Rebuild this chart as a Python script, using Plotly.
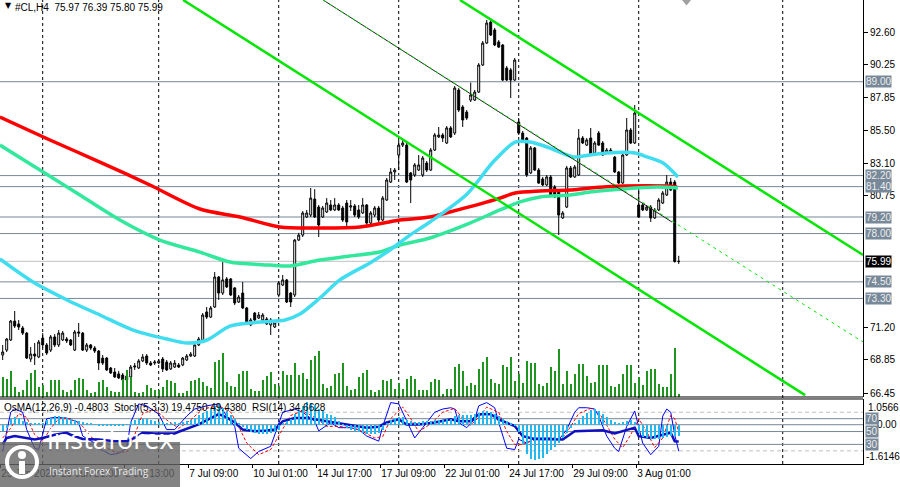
import plotly.graph_objects as go

# #CL H4 candles, one value per bar (oldest first)
opens = [69.20, 69.56, 70.29, 71.66, 71.45, 71.16, 70.79, 68.91, 69.27, 69.06,
         70.43, 69.93, 69.56, 70.51, 69.93, 70.29, 70.36, 70.29, 69.56, 70.87,
         70.79, 69.56, 69.93, 69.71, 69.49, 68.98, 68.98, 68.26, 67.97, 67.83,
         67.75, 67.39, 67.61, 68.33, 68.26, 68.77, 69.13, 68.62, 68.62, 68.62,
         68.91, 68.69, 68.19, 68.33, 68.48, 68.48, 68.84, 69.13, 69.13, 69.93,
         70.29, 72.32, 71.95, 72.68, 74.85, 73.69, 74.71, 74.71, 74.06, 73.04,
         73.69, 72.61, 71.38, 72.24, 71.88, 71.74, 71.81, 71.38, 71.23, 73.55,
         74.27, 74.64, 73.69, 73.55, 77.53, 77.89, 79.20, 79.34, 80.50, 79.92,
         79.20, 79.56, 80.07, 79.71, 80.07, 79.85, 80.21, 79.92, 80.00, 79.71,
         79.49, 80.07, 78.76, 79.34, 79.85, 78.98, 80.43, 81.73, 82.46, 83.69,
         84.41, 84.41, 82.39, 82.24, 82.60, 82.24, 83.11, 82.60, 84.05, 85.00,
         85.14, 84.56, 85.65, 85.28, 88.40, 87.17, 86.80, 87.67, 87.67, 88.25,
         90.21, 91.80, 93.32, 92.75, 91.88, 91.66, 89.99, 89.85, 89.12, 86.08,
         85.28, 84.92, 82.39, 84.20, 82.60, 81.95, 81.52, 82.10, 81.37, 81.15,
         79.13, 79.92, 82.75, 82.10, 82.24, 84.92, 84.41, 84.92, 83.83, 85.28,
         84.56, 83.83, 84.05, 83.54, 82.46, 81.66, 83.69, 85.50, 84.56, 80.07,
         80.07, 79.71, 79.92, 79.13, 79.71, 80.21, 80.79, 81.73, 81.73, 75.97]
highs = [69.93, 70.43, 71.74, 72.39, 71.74, 71.30, 70.87, 69.78, 70.07, 70.29,
         70.79, 70.07, 70.65, 70.72, 71.01, 70.94, 70.51, 70.36, 71.01, 71.52,
         70.87, 70.07, 70.00, 69.85, 69.56, 69.20, 69.06, 68.33, 68.26, 68.05,
         67.90, 67.83, 68.48, 68.62, 68.91, 69.27, 69.27, 68.77, 68.84, 68.91,
         69.06, 68.84, 68.77, 68.84, 68.62, 69.06, 69.27, 69.42, 70.07, 70.51,
         72.24, 72.68, 72.75, 75.21, 74.93, 75.94, 74.85, 74.78, 74.13, 73.55,
         74.49, 72.68, 71.88, 72.32, 72.32, 72.24, 71.95, 71.88, 71.66, 74.56,
         75.00, 74.71, 73.76, 77.60, 78.05, 79.63, 79.71, 81.30, 81.22, 80.07,
         80.00, 80.57, 80.43, 80.57, 80.21, 80.00, 80.43, 80.43, 80.14, 80.07,
         80.57, 80.14, 79.63, 80.00, 80.00, 80.72, 82.03, 82.75, 82.75, 84.78,
         84.85, 84.56, 82.46, 83.11, 83.69, 83.62, 83.26, 84.20, 85.28, 85.72,
         85.28, 85.79, 85.79, 88.69, 88.54, 87.31, 86.95, 88.94, 88.40, 90.35,
         91.95, 93.47, 93.61, 92.90, 92.02, 91.73, 90.14, 89.99, 90.72, 86.37,
         85.43, 85.00, 84.34, 84.27, 82.75, 82.10, 82.24, 82.24, 81.52, 81.22,
         79.63, 82.90, 82.90, 82.97, 85.57, 85.07, 84.92, 85.65, 84.70, 85.43,
         84.70, 84.20, 84.20, 83.62, 82.53, 83.83, 86.37, 85.65, 87.31, 81.52,
         80.21, 80.07, 80.07, 79.85, 80.57, 81.08, 82.24, 82.03, 81.88, 76.39]
lows = [68.84, 69.42, 70.22, 71.16, 71.01, 70.65, 68.91, 68.69, 68.48, 68.98,
        69.71, 69.20, 69.42, 69.78, 69.78, 70.22, 70.07, 69.85, 69.49, 70.51,
        69.49, 69.42, 69.56, 69.35, 68.12, 68.48, 68.05, 67.83, 67.54, 67.46,
        67.25, 67.25, 67.54, 68.12, 68.19, 68.69, 68.48, 68.40, 68.48, 68.55,
        67.97, 68.05, 68.12, 68.26, 68.26, 68.40, 68.77, 69.06, 69.06, 69.85,
        70.22, 71.81, 71.88, 72.61, 73.19, 73.55, 74.06, 73.47, 72.82, 72.97,
        72.53, 71.38, 71.30, 71.66, 71.81, 71.66, 71.38, 70.65, 71.16, 73.40,
        74.20, 72.97, 72.68, 73.40, 77.46, 77.75, 79.13, 79.20, 79.13, 77.75,
        79.13, 79.49, 79.63, 79.63, 79.63, 78.84, 78.55, 79.63, 79.20, 79.06,
        79.42, 78.62, 78.69, 79.20, 78.84, 78.91, 80.36, 81.66, 81.88, 82.60,
        84.27, 81.66, 80.21, 82.10, 82.53, 82.10, 82.46, 82.53, 83.98, 84.92,
        84.63, 84.49, 84.92, 85.14, 86.80, 85.72, 86.23, 87.53, 87.60, 88.18,
        90.14, 91.73, 92.31, 91.58, 91.44, 89.05, 89.05, 87.82, 89.05, 85.14,
        84.70, 82.10, 82.31, 82.53, 81.59, 81.44, 81.44, 80.72, 80.57, 77.89,
        79.06, 79.85, 82.03, 82.03, 82.17, 84.49, 84.34, 83.62, 83.76, 84.34,
        83.62, 83.76, 83.76, 82.39, 81.59, 81.59, 83.62, 84.49, 84.49, 79.13,
        79.63, 79.63, 78.84, 79.06, 79.63, 80.14, 80.72, 81.08, 75.90, 75.80]
closes = [69.42, 70.36, 71.66, 71.30, 71.23, 70.79, 68.98, 69.27, 69.13, 70.14,
          69.93, 69.35, 70.51, 69.93, 70.79, 70.79, 70.22, 69.93, 70.87, 70.79,
          69.56, 69.93, 69.71, 69.49, 68.62, 68.62, 68.12, 67.90, 67.61, 67.54,
          67.39, 67.68, 68.33, 68.40, 68.77, 69.06, 68.62, 68.48, 68.69, 68.77,
          68.19, 68.12, 68.62, 68.62, 68.33, 68.98, 69.13, 69.27, 69.93, 70.36,
          72.10, 71.95, 72.61, 74.85, 73.69, 74.64, 74.13, 73.55, 72.97, 73.40,
          72.61, 71.52, 71.74, 71.74, 72.10, 72.10, 71.45, 71.74, 71.52, 74.42,
          74.64, 73.04, 73.04, 77.53, 77.89, 79.49, 79.49, 80.57, 79.20, 78.62,
          79.85, 80.21, 79.71, 80.07, 79.71, 78.98, 78.84, 80.00, 79.34, 79.20,
          80.07, 78.76, 79.49, 79.85, 78.98, 80.57, 81.88, 82.46, 82.60, 84.41,
          84.56, 81.73, 81.88, 82.97, 82.97, 83.47, 82.60, 84.05, 85.14, 85.14,
          84.92, 85.65, 85.00, 88.54, 86.95, 86.23, 86.37, 88.04, 88.25, 90.21,
          91.80, 93.25, 92.38, 91.66, 91.51, 89.12, 89.12, 89.12, 90.57, 85.28,
          84.78, 82.24, 84.20, 82.60, 81.66, 81.52, 82.10, 80.79, 80.65, 79.34,
          79.49, 82.75, 82.10, 82.82, 84.92, 84.56, 84.78, 83.69, 84.56, 84.41,
          83.69, 84.05, 83.83, 82.46, 81.66, 83.69, 85.50, 84.56, 86.73, 79.20,
          79.71, 79.92, 79.13, 79.71, 80.43, 80.94, 81.73, 81.15, 75.97, 75.99]
volumes = [20, 18, 26, 10, 5, 7, 17, 24, 27, 10, 12, 5, 17, 17, 17, 7, 5, 7, 17, 19,
           18, 7, 4, 5, 15, 17, 10, 6, 5, 5, 18, 27, 20, 5, 4, 5, 12, 9, 7, 7,
           10, 17, 16, 14, 4, 4, 6, 16, 17, 19, 15, 11, 9, 35, 37, 44, 15, 11, 10, 23,
           26, 26, 8, 6, 6, 17, 21, 25, 13, 11, 26, 22, 22, 34, 22, 24, 18, 37, 41, 46,
           13, 9, 11, 23, 24, 34, 11, 7, 8, 20, 24, 27, 7, 5, 7, 17, 16, 18, 8, 14,
           8, 18, 21, 18, 7, 7, 7, 15, 18, 17, 3, 8, 8, 30, 33, 26, 11, 14, 12, 28,
           35, 40, 18, 14, 13, 32, 30, 40, 16, 23, 14, 36, 34, 34, 13, 11, 14, 30, 26, 48,
           13, 26, 13, 23, 33, 33, 21, 14, 15, 32, 32, 32, 11, 10, 13, 23, 32, 32, 14, 20,
           12, 26, 28, 28, 13, 10, 10, 23, 49, 3]
osma = [-0.25, -0.15, 0.25, 0.32, 0.28, 0.15, 0.10, 0.08, 0.06, 0.05,
        0.08, 0.18, 0.28, 0.36, 0.34, 0.30, 0.26, 0.22, 0.20, 0.16,
        0.12, 0.08, 0.05, 0.02, -0.02, -0.04, -0.05, -0.06, -0.05, -0.04,
        -0.02, 0.02, 0.10, 0.18, 0.22, 0.24, 0.22, 0.20, 0.16, 0.12,
        0.10, 0.08, 0.08, 0.10, 0.09, 0.10, 0.14, 0.20, 0.28, 0.38,
        0.50, 0.58, 0.66, 0.75, 0.80, 0.70, 0.55, 0.40, 0.22, 0.05,
        -0.10, -0.20, -0.30, -0.36, -0.40, -0.40, -0.38, -0.35, -0.30, -0.20,
        0.05, 0.15, 0.22, 0.45, 0.62, 0.78, 0.93, 0.88, 0.80, 0.65,
        0.55, 0.45, 0.38, 0.30, 0.15, 0.02, -0.12, -0.20, -0.25, -0.30,
        -0.35, -0.38, -0.40, -0.38, -0.32, -0.20, 0.05, 0.20, 0.28, 0.32,
        0.30, 0.20, 0.15, 0.12, 0.12, 0.14, 0.15, 0.15, 0.18, 0.20,
        0.20, 0.22, 0.25, 0.35, 0.38, 0.40, 0.38, 0.40, 0.45, 0.50,
        0.55, 0.57, 0.52, 0.45, 0.35, 0.25, 0.15, 0.05, -0.05, -0.30,
        -0.80, -1.20, -1.40, -1.45, -1.42, -1.35, -1.20, -1.05, -0.90, -0.75,
        -0.55, -0.35, -0.15, 0.05, 0.20, 0.35, 0.50, 0.62, 0.64, 0.55,
        0.42, 0.30, 0.20, 0.10, 0.05, 0.10, 0.15, 0.20, 0.10, -0.35,
        -0.50, -0.55, -0.60, -0.60, -0.58, -0.55, -0.50, -0.45, -0.48, -0.48]

stoch_x = [0, 2, 3, 5, 6, 8, 9, 11, 13, 16, 19, 20, 23, 24, 27, 29, 31, 32, 34, 36,
           39, 41, 43, 46, 48, 51, 54, 56, 58, 59, 62, 64, 67, 69, 70, 73, 75, 78, 79, 82,
           84, 87, 89, 91, 94, 95, 97, 99, 100, 103, 105, 108, 110, 112, 113, 114, 116, 118, 119, 121,
           123, 124, 126, 128, 129, 131, 133, 137, 139, 141, 143, 144, 146, 148, 149, 151, 153, 154, 156, 158,
           160, 162, 164, 165, 166, 167, 168, 169]
stoch_main = [19, 80, 85, 80, 53, 24, 22, 70, 72, 71, 64, 43, 32, 24, 14, 16, 24, 64, 93, 90,
              77, 53, 53, 74, 85, 90, 93, 74, 58, 24, 8, 19, 27, 64, 80, 85, 80, 66, 51, 64,
              56, 56, 53, 43, 35, 58, 95, 93, 80, 40, 56, 80, 85, 87, 85, 64, 56, 69, 90, 95,
              87, 64, 24, 22, 38, 32, 40, 40, 37, 53, 80, 87, 87, 85, 74, 43, 24, 19, 58, 82,
              32, 14, 27, 74, 85, 80, 45, 19.47]
signal_x = [0, 2, 4, 6, 8, 10, 12, 14, 17, 20, 22, 25, 28, 31, 33, 35, 38, 41, 44, 47,
            50, 54, 57, 59, 61, 64, 67, 70, 72, 75, 78, 81, 84, 87, 90, 93, 95, 97, 100, 102,
            104, 107, 110, 113, 115, 117, 119, 121, 124, 126, 128, 130, 133, 137, 140, 142, 144, 147, 149, 151,
            153, 155, 157, 159, 161, 163, 165, 167, 168, 169]
stoch_signal = [40, 55, 78, 72, 45, 35, 55, 70, 70, 58, 42, 28, 18, 18, 45, 78, 85, 68, 55, 68,
                85, 90, 80, 58, 32, 14, 22, 55, 75, 82, 72, 58, 58, 56, 50, 40, 42, 70, 88, 70,
                50, 62, 80, 86, 70, 60, 72, 88, 80, 50, 30, 30, 37, 40, 40, 58, 78, 86, 80, 60,
                38, 25, 45, 70, 50, 25, 40, 75, 70, 49.44]
rsi_x = [0, 1, 3, 8, 10, 13, 16, 17, 20, 24, 28, 31, 33, 35, 38, 43, 44, 46, 49, 53,
         54, 56, 58, 60, 63, 66, 68, 70, 73, 76, 78, 83, 87, 91, 94, 96, 99, 101, 104, 108,
         112, 114, 117, 119, 122, 124, 128, 130, 133, 137, 140, 143, 147, 150, 153, 155, 158, 159, 162, 165,
         167, 168, 169]
rsi = [30, 40, 43, 37.5, 40, 45, 48, 45, 38.5, 37.5, 34.8, 34.8, 40, 48, 47, 47, 49.6, 54.3, 61, 74,
       77, 72, 64, 53, 50.6, 51.7, 53, 66, 71, 71, 69, 64, 61, 56, 57.5, 64, 69, 61, 61, 64,
       69, 66, 66, 77, 77, 69, 58.5, 42.7, 38.5, 37.5, 37.5, 50.6, 52, 52, 47, 50.6, 56, 42.7, 40, 45,
       48, 34.8, 34.66]

# moving averages, read at points along each line
ma_red_x = [-0.7, 11.8, 24.3, 36.8, 49.3, 59.3, 69.3, 79.3, 89.3, 99.3,
            106.8, 111.8, 124.3, 128.1, 134.3, 141.8, 146.8, 155.1, 166.1, 168.6]
ma_red = [86.44, 84.78, 83.18, 81.52, 79.78, 79.20, 78.47, 78.40, 78.47, 78.98,
          79.20, 79.56, 80.57, 80.94, 81.08, 81.15, 81.30, 81.44, 81.44, 81.37]
ma_teal_x = [-0.7, 9.3, 19.3, 29.3, 39.3, 49.3, 56.8, 66.8, 71.8, 79.3, 86.8, 94.3,
             99.3, 106.8, 116.8, 124.3, 129.3, 134.3, 141.8, 146.8, 155.1, 163.6, 168.8]
ma_teal = [84.41, 82.60, 80.79, 78.98, 77.53, 76.66, 75.94, 75.72, 75.65, 76.08, 76.37, 76.66,
           77.17, 77.68, 78.76, 79.71, 80.29, 80.65, 80.79, 81.01, 81.23, 81.37, 81.30]
ma_cyan_x = [-0.7, 7.6, 16.1, 24.3, 32.6, 41.1, 46.1, 51.1, 56.8, 64.3, 70.6, 74.3, 79.3, 84.3, 91.8,
             96.8, 101.8, 106.8, 116.1, 122.6, 128.1, 131.8, 136.8, 142.6, 146.8, 151.1, 158.1, 161.1, 165.1, 168.8]
ma_cyan = [76.16, 74.49, 73.19, 72.10, 71.01, 70.36, 70.07, 70.29, 71.30, 71.59, 71.74, 72.17, 73.33, 74.64, 75.87,
           76.81, 77.89, 78.84, 80.87, 83.18, 84.63, 84.63, 84.20, 83.55, 83.69, 83.84, 83.84, 83.55, 83.11, 82.10]

levels = [89.00, 82.20, 81.40, 79.20, 78.00, 74.50, 73.30]
last_price = 75.99
price_ticks = [92.60, 90.25, 87.85, 85.50, 83.10, 80.75, 71.20, 68.85, 66.45]

time_labels = ["25 Jun 2026", "29 Jun 21:00", "2 Jul 13:00", "7 Jul 09:00", "10 Jul 01:00",
               "14 Jul 17:00", "17 Jul 09:00", "22 Jul 01:00", "24 Jul 17:00", "29 Jul 09:00",
               "3 Aug 01:00"]
time_label_bars = [0, 15, 31, 47, 63, 79, 95, 111, 127, 143, 159]
week_bars = [10, 39, 69, 99, 129, 159, 195]

# trend lines: (bar, price) end points
channel_low = [45.1, 94.92, 200.6, 66.30]
channel_high = [114.3, 94.92, 215.1, 76.45]
trend_line = [80.1, 94.92, 167.3, 78.84]
trend_ext = [80.1, 94.92, 215.1, 70.14]

bars = list(range(len(closes)))
MAIN_DOM = [0.1444, 1.0]
IND_DOM = [0.0, 0.1401]
FONT = "Liberation Sans"
SLATE = "#778899"

fig = go.Figure()

fig.add_trace(go.Bar(x=bars, y=volumes, yaxis="y3", width=0.3,
                     marker=dict(color="#1f951f", line=dict(width=0))))

fig.add_trace(go.Scatter(x=ma_red_x, y=ma_red, mode="lines",
                         line=dict(color="#ff0000", width=3.5, shape="spline", smoothing=0.8)))
fig.add_trace(go.Scatter(x=ma_teal_x, y=ma_teal, mode="lines",
                         line=dict(color="#33e89c", width=3.5, shape="spline", smoothing=0.8)))
fig.add_trace(go.Scatter(x=ma_cyan_x, y=ma_cyan, mode="lines",
                         line=dict(color="#40dcf0", width=3.5, shape="spline", smoothing=0.8)))

fig.add_trace(go.Candlestick(
    x=bars, open=opens, high=highs, low=lows, close=closes,
    increasing=dict(line=dict(color="black", width=1), fillcolor="white"),
    decreasing=dict(line=dict(color="black", width=1), fillcolor="black"),
    whiskerwidth=0))

# indicator window
fig.add_trace(go.Bar(x=bars, y=osma, yaxis="y4", width=0.6,
                     marker=dict(color="#22b8f0", line=dict(width=0))))
fig.add_trace(go.Scatter(x=stoch_x, y=stoch_main, yaxis="y2", mode="lines",
                         line=dict(color="#0000ff", width=1)))
fig.add_trace(go.Scatter(x=signal_x, y=stoch_signal, yaxis="y2", mode="lines",
                         line=dict(color="#ff0000", width=1, dash="3px,2px")))
fig.add_trace(go.Scatter(x=rsi_x, y=rsi, yaxis="y2", mode="lines",
                         line=dict(color="#1010c0", width=2.5)))

shapes = []
for b in week_bars:
    shapes.append(dict(type="line", xref="x", yref="paper", x0=b, x1=b, y0=0, y1=1,
                       line=dict(color="black", width=1, dash="3px,3px"), layer="below"))
for lv in levels:
    shapes.append(dict(type="line", xref="paper", yref="y", x0=0, x1=1, y0=lv, y1=lv,
                       line=dict(color=SLATE, width=1), layer="below"))
shapes.append(dict(type="line", xref="paper", yref="y", x0=0, x1=1, y0=last_price, y1=last_price,
                   line=dict(color="#c0c0c0", width=1), layer="below"))
for lv, st in [(80, "dash"), (70, "solid"), (50, "solid"), (30, "solid"), (20, "dash")]:
    shapes.append(dict(type="line", xref="paper", yref="y2", x0=0, x1=1, y0=lv, y1=lv,
                       line=dict(color="#c0c0c0" if st == "dash" else SLATE, width=1,
                                 dash="4px,3px" if st == "dash" else "solid"), layer="below"))
shapes.append(dict(type="line", xref="paper", yref="y4", x0=0, x1=1, y0=0, y1=0,
                   line=dict(color=SLATE, width=1), layer="below"))
for ln, col, w, d in [(channel_low, "#00e600", 2.5, "solid"), (channel_high, "#00e600", 2.5, "solid"),
                      (trend_line, "#202020", 1, "solid"), (trend_ext, "#00e600", 1, "3px,4px")]:
    shapes.append(dict(type="line", xref="x", yref="y", x0=ln[0], y0=ln[1], x1=ln[2], y1=ln[3],
                       line=dict(color=col, width=w, dash=d), layer="above"))
# window borders
for yy in [MAIN_DOM[0], IND_DOM[1]]:
    shapes.append(dict(type="line", xref="paper", yref="paper", x0=0, x1=1, y0=yy, y1=yy,
                       line=dict(color="black", width=1)))
# chart shift marker
shapes.append(dict(type="path", xref="paper", yref="paper",
                   path="M 0.7903,1 L 0.8007,1 L 0.7955,0.988 Z",
                   fillcolor="#a0a0a0", line=dict(width=0)))
# watermark
shapes.append(dict(type="rect", xref="paper", yref="paper", x0=0, x1=0.2086, y0=-0.0496, y1=0.0474,
                   fillcolor="rgba(100,100,100,0.8)", line=dict(width=0), layer="above"))
shapes.append(dict(type="circle", xref="paper", yref="paper", xsizemode="pixel", ysizemode="pixel",
                   xanchor=22 / 863, yanchor=(464 - 462) / 464, x0=-15, x1=15, y0=-15, y1=15,
                   line=dict(color="white", width=4), layer="above"))
shapes.append(dict(type="circle", xref="paper", yref="paper", xsizemode="pixel", ysizemode="pixel",
                   xanchor=22 / 863, yanchor=(464 - 462) / 464, x0=-4, x1=4, y0=3, y1=11,
                   fillcolor="white", line=dict(width=0), layer="above"))
shapes.append(dict(type="rect", xref="paper", yref="paper", xsizemode="pixel", ysizemode="pixel",
                   xanchor=22 / 863, yanchor=(464 - 462) / 464, x0=-3, x1=3, y0=-12, y1=1,
                   fillcolor="white", line=dict(width=0), layer="above"))

ann = []
ann.append(dict(xref="paper", yref="paper", x=0, y=1, xanchor="left", yanchor="top",
                xshift=3, yshift=1, showarrow=False, text="\u25bc",
                font=dict(family="DejaVu Sans", size=8, color="black")))
ann.append(dict(xref="paper", yref="paper", x=0, y=1, xanchor="left", yanchor="top",
                xshift=13, yshift=0, showarrow=False,
                text="#CL,H4  75.97 76.39 75.80 75.99",
                font=dict(family=FONT, size=10, color="black")))
ann.append(dict(xref="paper", yref="paper", x=0, y=IND_DOM[1], xanchor="left", yanchor="top",
                xshift=2, yshift=-1, showarrow=False,
                text="OsMA(12,26,9) -0.4803  Stoch(5,3,3) 19.4750 49.4380  RSI(14) 34.6628",
                font=dict(family=FONT, size=10, color="black")))
for lv in levels:
    ann.append(dict(xref="paper", yref="y", x=1, y=lv, xanchor="left", xshift=2, showarrow=False,
                    text=f"{lv:.2f}", bgcolor=SLATE, borderpad=0,
                    font=dict(family=FONT, size=10, color="#eeeeee")))
ann.append(dict(xref="paper", yref="y", x=1, y=last_price, xanchor="left", xshift=2, showarrow=False,
                text=f"{last_price:.2f}", bgcolor="black", borderpad=0,
                font=dict(family=FONT, size=10, color="white")))
ann.append(dict(xref="paper", yref="y4", x=1, y=1.0566, xanchor="left", yanchor="top", xshift=3,
                yshift=-1, showarrow=False, text="1.0566", font=dict(family=FONT, size=10, color="black")))
ann.append(dict(xref="paper", yref="y4", x=1, y=0, xanchor="left", xshift=12, showarrow=False,
                text="0.00", font=dict(family=FONT, size=10, color="black")))
ann.append(dict(xref="paper", yref="y4", x=1, y=-1.6146, xanchor="left", yanchor="bottom", xshift=1,
                yshift=0, showarrow=False, text="-1.6146", font=dict(family=FONT, size=10, color="black")))
for lv in [70, 50, 30]:
    ann.append(dict(xref="paper", yref="y2", x=1, y=lv, xanchor="left", xshift=2, showarrow=False,
                    text=str(lv), bgcolor=SLATE, borderpad=0,
                    font=dict(family=FONT, size=10, color="#eeeeee")))
ann.append(dict(xref="paper", yref="paper", x=45 / 863, y=(464 - 459) / 464, xanchor="left",
                showarrow=False, text="instaforex",
                font=dict(family="Open Sans", size=27, color="white")))
ann.append(dict(xref="paper", yref="paper", x=47 / 863, y=(464 - 480) / 464, xanchor="left",
                showarrow=False, text="Instant Forex Trading",
                font=dict(family="Open Sans", size=10, color="#e8e8e8")))

fig.update_layout(
    width=900, height=487, autosize=False,
    margin=dict(l=0, r=37, t=0, b=23, autoexpand=False),
    paper_bgcolor="white", plot_bgcolor="white",
    showlegend=False, bargap=0, barmode="overlay",
    shapes=shapes, annotations=ann,
    xaxis=dict(anchor="y2", domain=[0, 1], range=[-0.675, 215.07], automargin=False,
               showgrid=False, zeroline=False, showline=True, linecolor="black", linewidth=1,
               ticks="outside", ticklen=3, tickcolor="black", tickangle=0,
               tickvals=[b - 0.6 for b in time_label_bars], ticktext=time_labels,
               ticklabelposition="outside right",
               tickfont=dict(family=FONT, size=10, color="black"),
               rangeslider=dict(visible=False)),
    yaxis=dict(domain=MAIN_DOM, range=[66.16, 94.92], side="right", automargin=False,
               showgrid=False, zeroline=False, showline=True, linecolor="black", linewidth=1,
               ticks="outside", ticklen=4, tickcolor="black",
               tickvals=price_ticks, ticktext=[f"{p:.2f}" for p in price_ticks],
               tickfont=dict(family=FONT, size=10, color="black")),
    yaxis2=dict(domain=IND_DOM, range=[-0.5, 100.6], side="right", automargin=False,
                showgrid=False, zeroline=False, showline=True, linecolor="black", linewidth=1,
                showticklabels=False, ticks=""),
    yaxis3=dict(overlaying="y", range=[0, 397], visible=False),
    yaxis4=dict(overlaying="y2", range=[-1.6146, 1.0566], visible=False),
)

fig.write_html("out.html", config=dict(displayModeBar=False),
               post_script="document.body.style.margin='0';")
